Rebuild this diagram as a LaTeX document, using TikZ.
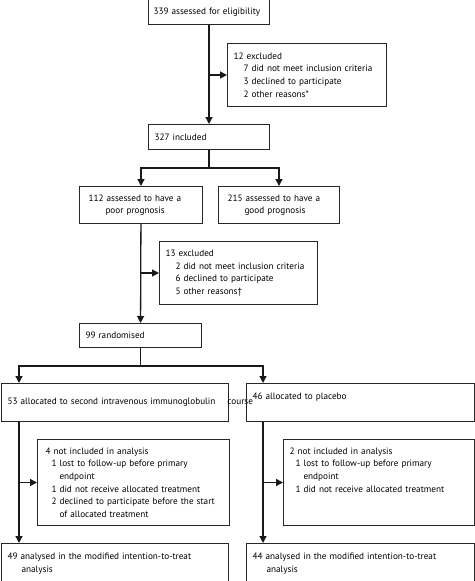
\documentclass[tikz,border=0pt]{standalone}
\usepackage{fontspec}
\setmainfont{PT Sans}
\usetikzlibrary{arrows.meta}
\usetikzlibrary{calc}
\tikzset{>={Triangle[length=7pt,width=7pt]}}
\tikzset{box/.style={draw, anchor=north west, align=left, inner xsep=6pt, inner ysep=0pt, font=\fontsize{9.2}{12.6}\selectfont}}
\tikzset{link/.style={line width=1.3pt, draw=black!90}}
\newcommand{\indby}[1]{\hspace*{#1pt}}

\begin{document}
\begin{tikzpicture}[x=1pt, y=-1pt, line width=1pt, every node/.style={draw=black!85, text=black}]
        \useasboundingbox (0,0) rectangle (474,581);

        \node[box, minimum width=121pt, minimum height=25pt, text width=111pt, inner xsep=5pt] (elig) at (148,-1) {339 assessed for eligibility};
        \node[box, minimum width=159pt, minimum height=63pt, text width=147pt] (excl1) at (227,43) {12 excluded\\ \indby{10}7 did not meet inclusion criteria\\ \indby{10}3 declined to participate\\ \indby{10}2 other reasons*};
        \node[box, minimum width=121pt, minimum height=25pt, text width=109pt] (incl) at (148,124) {327 included};

        \node[box, minimum width=123pt, minimum height=37pt, text width=111pt] (poor) at (79,186) {\indby{3}112 assessed to have a\\ \indby{20}poor prognosis};
        \node[box, minimum width=121pt, minimum height=37pt, text width=109pt] (good) at (218,186) {\indby{3}215 assessed to have a\\ \indby{20}good prognosis};
        \node[box, minimum width=158pt, minimum height=63pt, text width=146pt] (excl2) at (159,241) {13 excluded\\ \indby{10}2 did not meet inclusion criteria\\ \indby{10}6 declined to participate\\ \indby{10}5 other reasons†};
        \node[box, minimum width=122pt, minimum height=24pt, text width=110pt] (rand) at (79,323) {99 randomised};

        \node[box, minimum width=227pt, minimum height=38pt, text width=215pt] (ivig) at (1,383) {\hbox{53 allocated to second intravenous immunoglobulin}\hbox{\indby{12}course}};
        \node[box, minimum width=228pt, minimum height=38pt, text width=216pt] (plac) at (246,383) {46 allocated to placebo\\~};
        \node[box, minimum width=192pt, minimum height=86pt, text width=180pt] (ninc1) at (37,439) {\indby{2}4 not included in analysis\\ \indby{8}1 lost to follow-up before primary\\ \indby{16}endpoint\\ \indby{8}1 did not receive allocated treatment\\ \indby{8}2 declined to participate before the start\\ \indby{16}of allocated treatment};
        \node[box, minimum width=191pt, minimum height=86pt, text width=179pt] (ninc2) at (283,439) {2 not included in analysis\\ \indby{6}1 lost to follow-up before primary\\ \indby{14}endpoint\\ \indby{6}1 did not receive allocated treatment\\~\\~};
        \node[box, minimum width=227pt, minimum height=40pt, text width=215pt] (mitt1) at (1,543) {49 analysed in the modified intention-to-treat\\ \indby{14}analysis};
        \node[box, minimum width=228pt, minimum height=40pt, text width=216pt] (mitt2) at (246,543) {44 analysed in the modified intention-to-treat\\ \indby{14}analysis};

        % screening
        \draw[link,->] (elig) -- (incl);
        \draw[link,->] (elig.south |- excl1.west) -- (excl1.west);

        % prognosis split
        \coordinate (split1) at ($(incl.south)+(0,18)$);
        \draw[link] (incl) -- (split1);
        \draw[link,->] (split1) -| (poor);
        \draw[link,->] (split1) -| (good);
        \draw[link,->] (poor) -- (rand);
        \draw[link,->] (poor.south |- excl2.west) -- (excl2.west);

        % randomisation
        \coordinate (split2) at ($(rand.south)+(0,18)$);
        \coordinate (armL) at ($(ivig.north west)+(18,0)$);
        \coordinate (armR) at ($(plac.north west)+(17,0)$);
        \draw[link] (rand) -- (split2);
        \draw[link,->] (split2) -| (armL);
        \draw[link,->] (split2) -| (armR);
        \draw[link,->] (armL |- ivig.south) -- (armL |- mitt1.north);
        \draw[link,->] (armR |- plac.south) -- (armR |- mitt2.north);
        \draw[link,->] (armL |- ninc1.west) -- (ninc1.west);
        \draw[link,->] (armR |- ninc2.west) -- (ninc2.west);
    \end{tikzpicture}
\end{document}
